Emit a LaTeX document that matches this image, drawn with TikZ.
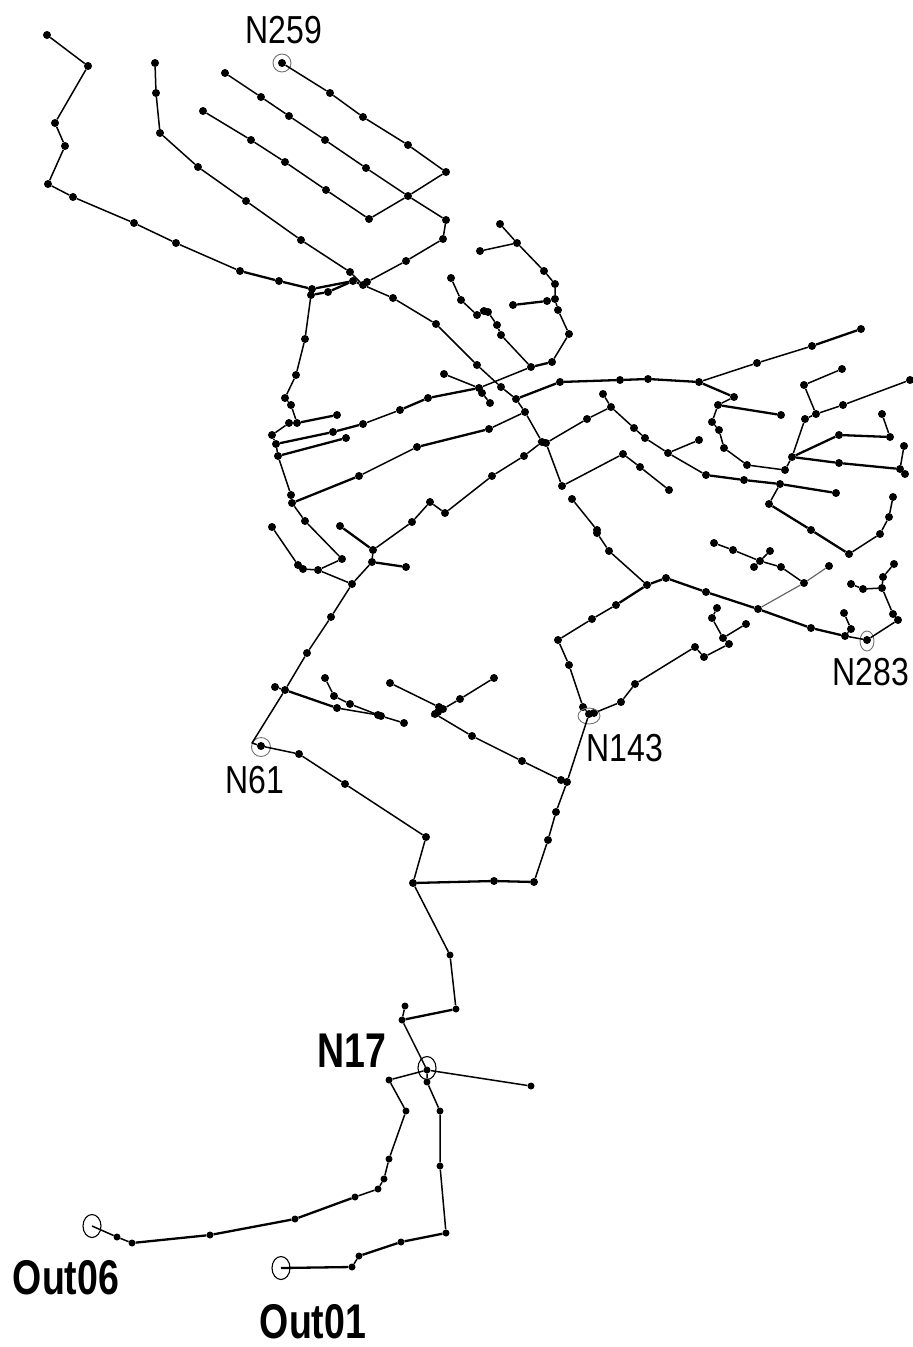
\documentclass[tikz,border=0pt]{standalone}
\usepackage{fontspec}
\setmainfont{Liberation Sans}
\usetikzlibrary{shapes.geometric}
\tikzset{
  dot/.style={circle,fill=black,draw=none,inner sep=0pt,minimum size=8pt},
  sdot/.style={circle,fill=black,draw=none,inner sep=0pt,minimum size=7pt},
  edge/.style={draw=black,line width=1.5pt,line join=round},
  heavy/.style={draw=black,line width=2.3pt,line join=round},
  pale/.style={draw=black!60,line width=1.2pt,line join=round},
  ring/.style={ellipse,draw=black!55,line width=0.9pt,inner sep=0pt,fill=none},
  bring/.style={ellipse,draw=black,line width=1.1pt,inner sep=0pt,fill=none},
  lab/.style={inner sep=0pt,font=\fontsize{32}{32}\selectfont,yscale=1.22,transform shape},
  blab/.style={inner sep=0pt,font=\fontsize{37.5}{37.5}\selectfont\bfseries,yscale=1.3,transform shape}
}
\begin{document}
\begin{tikzpicture}[x=1pt,y=-1pt]
\useasboundingbox (0,0) rectangle (913,1347);
\foreach \n/\x/\y in {
a1/47/35,a2/88/66,a3/55/123,a4/65/146,a5/48/184,a6/73/197,a7/134/223,a8/176/243,a9/240/271,a10/279/281,a11/312/289,
h1/311/295,h2/328/292,h3/353/281,h4/363/285,h5/367/282,
b1/155/63,b2/156/93,b3/160/133,b4/198/167,b5/246/201,b6/301/240,b7/350/272,b8/393/298,b9/436/324,b10/477/365,b11/501/387,b12/516/399,b13/525/412,b14/542/442,b15/546/443,b16/562/486,b17/623/454,b18/640/467,b19/669/490,
c1/282/63,c2/330/93,c3/363/117,c4/408/145,c5/446/172,c6/408/196,c7/369/219,c8/326/190,c9/285/162,c10/251/140,c11/203/111,
d1/225/73,d2/261/97,d3/289/116,d4/325/140,d5/366/168,d6/446/220,d7/443/239,d8/406/261,
e1/305/339,e2/296/375,e3/285/398,e4/291/405,e5/297/423,e6/289/423,e7/272/435,e8/276/444,e9/278/456,e10/291/495,e11/292/503,e12/305/521,e13/342/559,e14/318/570,e15/352/584,e16/337/415,
f1/272/527,f2/298/565,f3/303/569,
g1/333/432,g2/363/424,g3/400/410,g4/428/398,g5/479/388,g6/531/367,g7/552/362,g8/569/334,g9/558/310,g10/555/299,g11/555/284,g12/544/271,g13/517/243,g14/500/224,g15/480/251,g16/547/301,g17/513/305,
i1/451/278,i2/461/300,i3/477/315,i4/484/311,i5/488/312,i6/497/325,i7/501/335,
j1/444/374,j2/482/393,j3/490/403,
k1/560/382,k2/620/380,k3/648/379,k4/699/382,k5/757/363,k6/812/346,k7/861/329,
l1/734/397,l2/718/405,l3/781/415,l4/712/422,l5/719/430,l6/724/448,l7/747/465,l8/785/470,l9/792/457,l10/805/419,l11/816/414,l12/843/405,l13/910/380,
m1/804/385,m2/842/369,m3/839/435,m4/890/437,m5/882/414,m6/839/463,m7/900/469,m8/904/446,m9/905/474,
n1/346/438,
o1/489/429,o2/417/447,o3/359/476,
p1/587/419,p2/611/407,p3/603/394,p4/634/428,p5/645/438,p6/668/453,p7/706/475,p8/744/480,p9/780/484,p10/836/493,p11/699/440,
q1/769/504,q2/811/530,q3/849/554,q4/880/534,q5/889/517,q6/893/497,
r1/524/456,r2/492/476,r3/445/513,r4/430/502,r5/412/522,r6/373/550,r7/372/562,r8/406/567,r9/340/526,
s1/331/617,s2/307/653,s3/285/690,s5/275/687,
t1/261/746,t2/299/754,t3/345/784,t4/426/837,t5/413/883,
u1/337/708,u2/381/716,u3/404/723,u4/325/678,u5/334/696,u6/350/704,u7/378/715,
v1/494/881,v2/534/882,v3/548/840,v4/556/812,v5/567/782,
w1/589/714,w2/583/707,w3/569/665,w4/558/640,w5/592/619,w6/616/605,w7/647/585,w8/666/578,
x1/706/592,x2/758/609,x3/811/628,x4/845/636,x5/867/640,x6/898/620,x7/893/614,x8/882/588,x9/863/589,x10/851/584,x11/883/577,x12/894/564,x13/851/629,x14/844/613,
y1/609/551,y2/597/533,y3/597/530,y4/572/499,
z1/804/583,z2/829/566,z3/781/567,z4/760/561,z5/733/550,z6/714/543,z7/754/567,z8/770/551,
aa1/621/702,aa2/635/684,aa3/695/647,aa4/704/657,aa5/729/644,aa6/723/638,aa7/746/624,aa8/712/618,aa9/717/608,w9/594/713,
ab0/561/780,ab1/522/761,ab2/472/736,ab3/435/714,ab4/390/683,ab5/439/707,ab6/443/709,ab7/460/699,ab8/494/678,ab9/438/712}
  \node[dot] (\n) at (\x,\y) {};
\foreach \n/\x/\y in {
lo1/450/955,lo2/456/1009,lo3/402/1020,lo4/405/1006,lo5/440/1111,lo6/440/1166,lo7/446/1233,lo8/401/1242,lo9/359/1256,lo10/352/1267,lo11/531/1086,lo12/389/1080,lo13/406/1111,lo14/389/1159,lo15/384/1179,lo16/378/1189,lo17/355/1197,lo18/295/1219,lo19/210/1235,lo20/132/1243,lo21/117/1237,n17/427/1070,lo22/427/1082}
  \node[sdot] (\n) at (\x,\y) {};
\coordinate (s4) at (252,743);
\coordinate (e06) at (92,1226);
\coordinate (e01) at (281,1268);
% rings
\node[ring,minimum width=18pt,minimum height=18pt] (rN259) at (282,63) {};
\node[ring,minimum width=19pt,minimum height=19pt] (rN61) at (261,747) {};
\node[ring,minimum width=22pt,minimum height=16pt] (rN143) at (589,716) {};
\node[ring,minimum width=14pt,minimum height=20pt] (rN283) at (867,641) {};
\node[bring,minimum width=18pt,minimum height=23pt] (rN17) at (427,1068) {};
\node[bring,minimum width=18pt,minimum height=23pt] (rOut06) at (92,1226) {};
\node[bring,minimum width=18pt,minimum height=23pt] (rOut01) at (281,1268) {};
% labels
\node[lab] (lN259) at (284,30) {N259};
\node[lab] (lN283) at (871,672) {N283};
\node[lab] (lN143) at (625,748) {N143};
\node[lab] (lN61) at (255,780) {N61};
\node[blab] (lN17) at (352,1051) {N17};
\node[blab] (lOut06) at (66,1278) {Out06};
\node[blab] (lOut01) at (313,1322) {Out01};
% edges
\draw[edge] (a1)--(a2)--(a3)--(a4)--(a5)--(a6)--(a7)--(a8)--(a9);
\draw[heavy] (a9)--(a10)--(a11)--(h3)--(h4)--(h5);
\draw[heavy] (h1)--(h2)--(h3);
\draw[edge] (a11)--(h1);
\draw[edge] (b1)--(b2)--(b3)--(b4)--(b5)--(b6)--(b7)--(h4)--(b8)--(b9)--(b10)--(b11)--(b12)--(b13)--(b14)--(b15)--(b16)--(b17)--(b18)--(b19);
\draw[edge] (c1)--(c2)--(c3)--(c4)--(c5)--(c6)--(c7)--(c8)--(c9)--(c10)--(c11);
\draw[edge] (d1)--(d2)--(d3)--(d4)--(d5)--(c6)--(d6)--(d7)--(d8)--(h5);
\draw[edge] (h1)--(e1)--(e2)--(e3)--(e4)--(e5)--(e6)--(e7)--(e8)--(e9)--(e10)--(e11)--(e12)--(e13)--(e14)--(e15);
\draw[heavy] (e5)--(e16);
\draw[edge] (f1)--(f2)--(f3)--(e14);
\draw[heavy] (e8)--(g1)--(g2);
\draw[edge] (g2)--(g3);
\draw[heavy] (g3)--(g4)--(g5);
\draw[edge] (g5)--(g6);
\draw[heavy] (g6)--(g7);
\draw[edge] (g7)--(g8)--(g9)--(g10)--(g11)--(g12)--(g13)--(g14);
\draw[edge] (g13)--(g15);
\draw[heavy] (g10)--(g16)--(g17);
\draw[edge] (i1)--(i2)--(i3)--(i4)--(i5)--(i6)--(i7)--(g6);
\draw[edge] (j1)--(g5)--(j2)--(j3);
\draw[heavy] (b12)--(k1)--(k2)--(k3)--(k4);
\draw[edge] (k4)--(k5)--(k6);
\draw[heavy] (k6)--(k7);
\draw[heavy] (k4)--(l1);
\draw[edge] (l1)--(l2);
\draw[heavy] (l2)--(l3);
\draw[edge] (l2)--(l4)--(l5)--(l6)--(l7)--(l8)--(l9)--(l10)--(l11)--(l12)--(l13);
\draw[edge] (l11)--(m1)--(m2);
\draw[heavy] (l9)--(m3)--(m4);
\draw[edge] (m4)--(m5);
\draw[heavy] (l9)--(m6)--(m7);
\draw[edge] (m8)--(m7)--(m9);
\draw[heavy] (e9)--(n1);
\draw[edge] (b13)--(o1);
\draw[heavy] (o1)--(o2);
\draw[edge] (o2)--(o3);
\draw[heavy] (o3)--(e11);
\draw[edge] (b15)--(p1)--(p2)--(p3);
\draw[edge] (p2)--(p4)--(p5)--(p6)--(p7);
\draw[heavy] (p7)--(p8)--(p9)--(p10);
\draw[edge] (p6)--(p11);
\draw[edge] (p9)--(q1);
\draw[heavy] (q1)--(q2)--(q3);
\draw[edge] (q3)--(q4)--(q5)--(q6);
\draw[edge] (b14)--(r1)--(r2)--(r3)--(r4)--(r5)--(r6)--(r7);
\draw[heavy] (r7)--(r8);
\draw[heavy] (r6)--(r9);
\draw[edge] (r7)--(e15)--(s1)--(s2)--(s3)--(s4)--(t1)--(t2)--(t3)--(t4)--(t5);
\draw[edge] (s5)--(s3);
\draw[heavy] (s3)--(u1);
\draw[edge] (u1)--(u7)--(u2)--(u3);
\draw[edge] (u4)--(u5)--(u6)--(u2);
\draw[heavy] (t5)--(v1)--(v2);
\draw[edge] (v2)--(v3)--(v4)--(v5)--(w1);
\draw[edge] (w1)--(w2)--(w3)--(w4)--(w5)--(w6);
\draw[heavy] (w6)--(w7)--(w8)--(x1)--(x2);
\draw[heavy] (x2)--(x3)--(x4);
\draw[edge] (x4)--(x5)--(x6)--(x7)--(x8)--(x9)--(x10);
\draw[edge] (x8)--(x11)--(x12);
\draw[edge] (x4)--(x13)--(x14);
\draw[edge] (w7)--(y1)--(y2)--(y3)--(y4);
\draw[pale] (x2)--(z1)--(z2);
\draw[edge] (z1)--(z3)--(z4)--(z5)--(z6);
\draw[edge] (z7)--(z4)--(z8);
\draw[edge] (w1)--(w9)--(aa1)--(aa2)--(aa3)--(aa4)--(aa5)--(aa6)--(aa7);
\draw[edge] (aa6)--(aa8)--(aa9);
\draw[edge] (v5)--(ab0)--(ab1)--(ab2)--(ab3)--(ab9)--(ab6);
\draw[edge] (ab4)--(ab5)--(ab6)--(ab7)--(ab8);
\draw[edge] (t5)--(lo1)--(lo2);
\draw[heavy] (lo2)--(lo3);
\draw[edge] (lo4)--(lo3)--(n17)--(lo22)--(lo5)--(lo6)--(lo7);
\draw[heavy] (lo7)--(lo8)--(lo9);
\draw[edge] (lo9)--(lo10);
\draw[heavy] (lo10)--(e01);
\draw[edge] (n17)--(lo11);
\draw[edge] (n17)--(lo12)--(lo13)--(lo14)--(lo15)--(lo16)--(lo17);
\draw[heavy] (lo17)--(lo18)--(lo19)--(lo20);
\draw[edge] (lo20)--(lo21)--(e06);
\end{tikzpicture}
\end{document}
